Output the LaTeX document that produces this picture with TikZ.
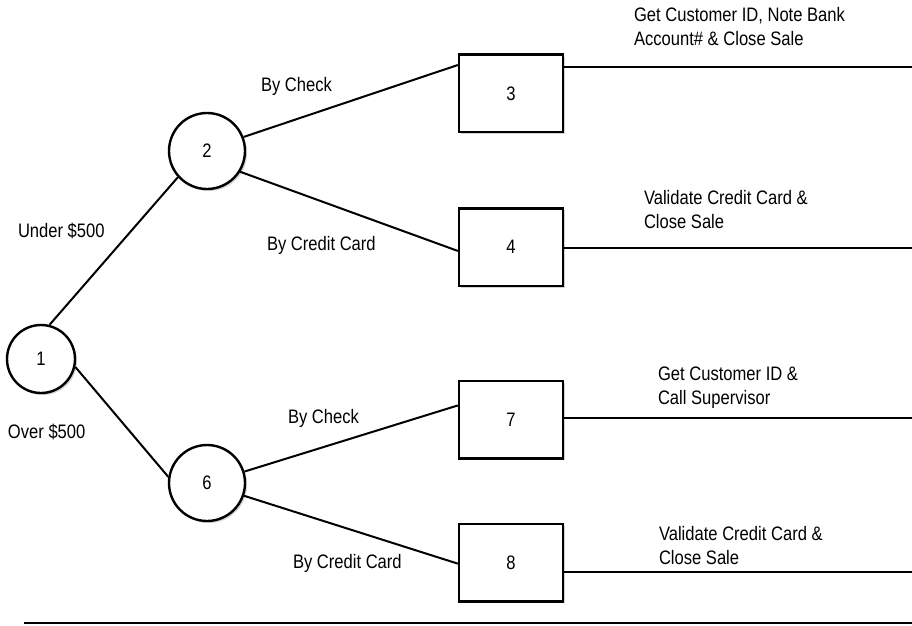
\documentclass[tikz,border=0pt]{standalone}
\usepackage{fontspec}
\setmainfont{Liberation Sans}[FakeStretch=0.85]
\usetikzlibrary{shadows}
\tikzset{chance/.style={circle, draw, line width=2.4pt, fill=white, minimum size=76pt, inner sep=0pt,
      drop shadow={shadow xshift=2pt, shadow yshift=-2pt, fill=black!35}}}
\tikzset{leaf/.style={rectangle, draw, line width=2.4pt, fill=white, minimum width=104pt,
      minimum height=77.5pt, inner sep=0pt,
      drop shadow={shadow xshift=2pt, shadow yshift=-2pt, fill=black!35}}}
\tikzset{txt/.style={anchor=west, inner sep=0pt, align=left}}

\begin{document}
\begin{tikzpicture}[x=1pt,y=-1pt,line width=2pt,font=\fontsize{19.5}{24}\selectfont]
    \useasboundingbox (0,0) rectangle (912,625);
    \node[chance, minimum size=68pt] (n1) at (41,359) {1};
    \node[chance] (n2) at (207,151) {2};
    \node[chance] (n6) at (207,483) {6};
    \node[leaf] (n3) at (511,93.3) {3};
    \node[leaf] (n4) at (511,247.2) {4};
    \node[leaf] (n7) at (511,419.7) {7};
    \node[leaf] (n8) at (511,562.7) {8};
    \draw (n1.76) -- (n2.222);
    \draw (n1.-13) -- (n6.171);
    \draw (n2.21) -- (n3.152);
    \draw (n2.-32) -- (n4.184);
    \draw (n6.17) -- (n7.165);
    \draw (n6.-19) -- (n8.181);
    \coordinate (e3) at (912,67);
    \coordinate (e4) at (912,248);
    \coordinate (e7) at (912,418);
    \coordinate (e8) at (912,572);
    \draw (n3.east |- e3) -- (e3);
    \draw (n4.east |- e4) -- (e4);
    \draw (n7.east |- e7) -- (e7);
    \draw (n8.east |- e8) -- (e8);
    \coordinate (b0) at (24,623);
    \coordinate (b1) at (912,623);
    \draw (b0) -- (b1);
    \node[txt] (under) at (17,231) {Under \$500};
    \node[txt] (over) at (7,432) {Over \$500};
    \node[txt] (chk2) at (260,86) {By Check};
    \node[txt] (cc2) at (266,245) {By Credit Card};
    \node[txt] (chk6) at (287,418) {By Check};
    \node[txt] (cc6) at (292,563) {By Credit Card};
    \node[txt] (t3) at (633,27) {Get Customer ID, Note Bank\\Account\# \& Close Sale};
    \node[txt] (t4) at (643,210) {Validate Credit Card \&\\Close Sale};
    \node[txt] (t7) at (657,387.5) {Get Customer ID \&\\Call Supervisor};
    \node[txt] (t8) at (658,546) {Validate Credit Card \&\\Close Sale};
  \end{tikzpicture}
\end{document}
